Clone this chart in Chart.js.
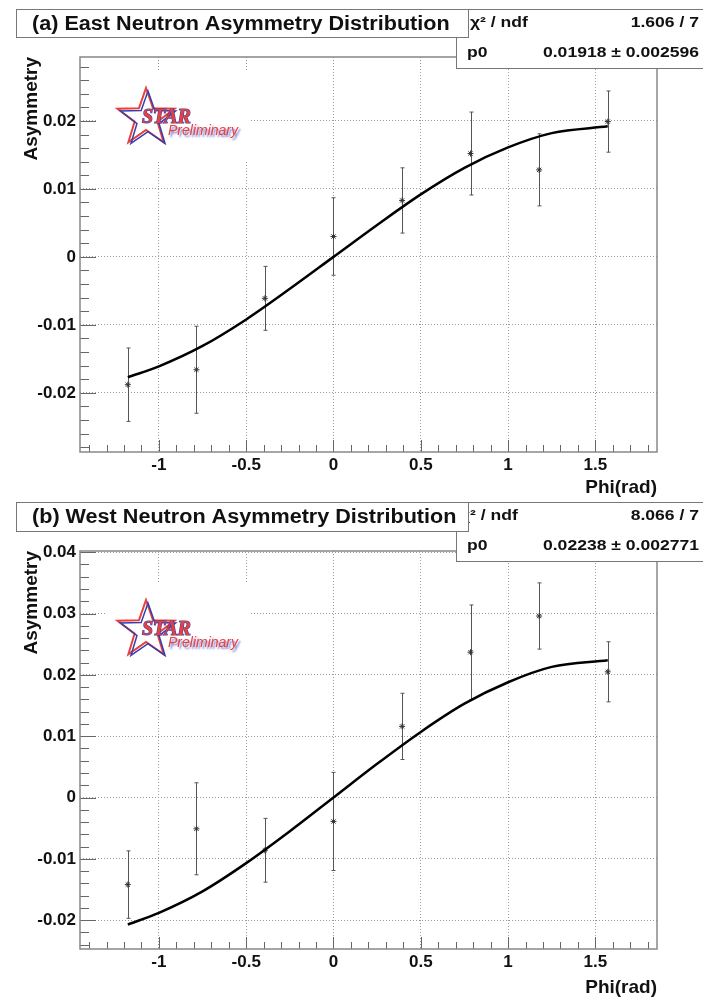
<!DOCTYPE html>
<html>
<head>
<meta charset="utf-8">
<script src="https://cdn.jsdelivr.net/npm/chart.js@4.4.1/dist/chart.umd.min.js"></script>
<style>
  html, body { margin: 0; padding: 0; background: #fff; }
  body { width: 703px; height: 997px; position: relative; overflow: hidden; }
  canvas { position: absolute; left: 0; }
  #east { top: 0; }
  #west { top: 497px; }
</style>
</head>
<body>
<canvas id="east" width="703" height="500"></canvas>
<canvas id="west" width="703" height="500"></canvas>
<script>
// phi bin centres (rad)
const phiBins = [-1.178, -0.785, -0.393, 0, 0.393, 0.785, 1.178, 1.571];

// east neutron asymmetry + errors
const eastAsym = [-0.0188, -0.0166, -0.0061, 0.0030, 0.0083, 0.0152, 0.0128, 0.0199];
const eastErr = [0.0054, 0.0064, 0.0047, 0.0057, 0.0048, 0.0061, 0.0053, 0.0045];

// west neutron asymmetry + errors
const westAsym = [-0.0142, -0.0051, -0.0086, -0.0039, 0.0116, 0.0237, 0.0296, 0.0205];
const westErr = [0.0055, 0.0075, 0.0052, 0.0080, 0.0054, 0.0077, 0.0054, 0.0049];

// fit curves
const fitPhi = [-1.178, -1.0, -0.75, -0.5, -0.25, 0, 0.25, 0.5, 0.75, 1.0, 1.25, 1.571];
const eastFit = [-0.0177, -0.0161, -0.0131, -0.0092, -0.0047, 0, 0.0047, 0.0092, 0.0131, 0.0161, 0.0182, 0.0192];
const westFit = [-0.0207, -0.0188, -0.0153, -0.0107, -0.0055, 0, 0.0055, 0.0107, 0.0153, 0.0188, 0.0213, 0.0224];

// axis ticks
const xTicks = [-1, -0.5, 0, 0.5, 1, 1.5];
const xTickLabels = ['-1', '-0.5', '0', '0.5', '1', '1.5'];
const eastYTicks = [-0.02, -0.01, 0, 0.01, 0.02];
const eastYLabels = ['-0.02', '-0.01', '0', '0.01', '0.02'];
const westYTicks = [-0.02, -0.01, 0, 0.01, 0.02, 0.03, 0.04];
const westYLabels = ['-0.02', '-0.01', '0', '0.01', '0.02', '0.03', '0.04'];

// fit stats
const eastStats = ['1.606 / 7', '0.01918 \u00b1 0.002596'];
const westStats = ['8.066 / 7', '0.02238 \u00b1 0.002771'];

const FONT = '"Liberation Sans", Arial, Helvetica, sans-serif';
Chart.defaults.font.family = FONT;
Chart.defaults.color = '#111';

function text(ctx, s, x, y, font, align, sx) {
  ctx.save();
  ctx.font = font;
  ctx.textAlign = align;
  ctx.textBaseline = 'middle';
  ctx.translate(x, y);
  ctx.scale(sx, 1);
  ctx.fillText(s, 0, 0);
  ctx.restore();
}

function starPath(ctx, cx, cy, R) {
  const r = R * 0.4;
  ctx.beginPath();
  for (let i = 0; i < 10; i++) {
    const a = -Math.PI / 2 + i * Math.PI / 5;
    const rr = i % 2 ? r : R;
    const px = cx + rr * Math.cos(a), py = cy + rr * Math.sin(a);
    i ? ctx.lineTo(px, py) : ctx.moveTo(px, py);
  }
  ctx.closePath();
}

const errorBars = {
  id: 'errorBars',
  beforeDatasetsDraw(chart, args, o) {
    const { ctx, scales: { x, y } } = chart;
    ctx.save();
    ctx.strokeStyle = '#555';
    ctx.lineWidth = 1;
    o.values.forEach((v, i) => {
      const px = Math.round(x.getPixelForValue(o.phi[i])) + 0.5;
      const top = y.getPixelForValue(v + o.errors[i]);
      const bot = y.getPixelForValue(v - o.errors[i]);
      ctx.beginPath();
      ctx.moveTo(px, top); ctx.lineTo(px, bot);
      ctx.moveTo(px - 2, top); ctx.lineTo(px + 2, top);
      ctx.moveTo(px - 2, bot); ctx.lineTo(px + 2, bot);
      ctx.stroke();
    });
    ctx.restore();
  }
};

const starLogo = {
  id: 'starLogo',
  beforeDatasetsDraw(chart, args, o) {
    const ctx = chart.ctx;
    const [x0, y0, x1, y1] = o.box;
    const [cx, cy] = o.center;
    ctx.save();
    ctx.fillStyle = '#fff';
    ctx.fillRect(x0, y0, x1 - x0, y1 - y0);
    ctx.lineJoin = 'miter';
    ctx.lineWidth = 2;
    ctx.strokeStyle = '#e8403a';
    starPath(ctx, cx - 1, cy - 1, 30);
    ctx.stroke();
    ctx.lineWidth = 1.5;
    ctx.strokeStyle = '#3a3fb0';
    starPath(ctx, cx + 1, cy + 1, 29);
    ctx.stroke();
    // STAR
    ctx.font = 'italic bold 20px "Liberation Serif", "DejaVu Serif", serif';
    ctx.textBaseline = 'alphabetic';
    ctx.textAlign = 'left';
    ctx.lineWidth = 1.2;
    ctx.strokeStyle = '#3a3fb0';
    ctx.strokeText('STAR', cx - 5, cy + 4);
    ctx.fillStyle = '#e8403a';
    ctx.fillText('STAR', cx - 5, cy + 4);
    // Preliminary
    ctx.font = 'italic 14px ' + FONT;
    ctx.shadowColor = 'rgba(70,70,200,0.75)';
    ctx.shadowOffsetX = 2;
    ctx.shadowOffsetY = 2;
    ctx.shadowBlur = 2;
    ctx.fillStyle = '#e8403a';
    ctx.fillText('Preliminary', cx + 21, cy + 16);
    ctx.restore();
  }
};

const rootFrame = {
  id: 'rootFrame',
  afterDraw(chart, args, o) {
    const { ctx, chartArea: a, scales: { x, y } } = chart;
    ctx.save();
    ctx.strokeStyle = '#666';
    ctx.lineWidth = 1;
    ctx.beginPath();
    // y ticks, inside the frame
    for (let k = Math.ceil(y.min / 0.002); k * 0.002 <= y.max; k++) {
      const py = Math.round(y.getPixelForValue(k * 0.002)) + 0.5;
      const len = k % 5 === 0 ? 16 : 9;
      ctx.moveTo(a.left, py); ctx.lineTo(a.left + len, py);
    }
    // x ticks
    for (let k = Math.ceil(x.min / 0.1); k * 0.1 <= x.max; k++) {
      const px = Math.round(x.getPixelForValue(k * 0.1)) + 0.5;
      const len = k % 5 === 0 ? 12 : 7;
      ctx.moveTo(px, a.bottom); ctx.lineTo(px, a.bottom - len);
    }
    ctx.stroke();
    ctx.strokeStyle = '#888';
    ctx.lineWidth = 1.5;
    ctx.strokeRect(a.left, a.top, a.right - a.left, a.bottom - a.top);

    // stats box
    const s = o.stats;
    ctx.fillStyle = '#fff';
    ctx.strokeStyle = '#777';
    ctx.lineWidth = 1;
    ctx.fillRect(s.box[0], s.box[1], s.box[2] - s.box[0], s.box[3] - s.box[1]);
    ctx.strokeRect(s.box[0] + 0.5, s.box[1] + 0.5, s.box[2] - s.box[0], s.box[3] - s.box[1]);
    ctx.fillStyle = '#111';
    const sf = 'bold 15px ' + FONT;
    text(ctx, '\u03c7\u00b2 / ndf', s.chiX, s.row1, sf, 'left', 1.17);
    text(ctx, s.values[0], 699, s.row1, sf, 'right', 1.17);
    text(ctx, 'p0', 467, s.row2, sf, 'left', 1.17);
    text(ctx, s.values[1], 699, s.row2, sf, 'right', 1.17);

    // title box
    const t = o.title;
    ctx.fillStyle = '#fff';
    ctx.fillRect(t.box[0], t.box[1], t.box[2] - t.box[0], t.box[3] - t.box[1]);
    ctx.strokeRect(t.box[0] + 0.5, t.box[1] + 0.5, t.box[2] - t.box[0], t.box[3] - t.box[1]);
    ctx.fillStyle = '#111';
    text(ctx, t.text, 32, (t.box[1] + t.box[3]) / 2 + 1, 'bold 20px ' + FONT, 'left', 1.08);
    ctx.restore();
  }
};

function makeChart(id, p) {
  return new Chart(document.getElementById(id), {
    type: 'scatter',
    data: {
      datasets: [
        {
          data: fitPhi.map((v, i) => ({ x: v, y: p.fit[i] })),
          showLine: true,
          borderColor: '#000',
          borderWidth: 2.5,
          pointRadius: 0,
          cubicInterpolationMode: 'monotone'
        },
        {
          data: phiBins.map((v, i) => ({ x: v, y: p.values[i] })),
          pointStyle: 'star',
          pointRadius: 3,
          borderColor: '#333',
          backgroundColor: '#333',
          borderWidth: 1
        }
      ]
    },
    options: {
      responsive: false,
      animation: false,
      layout: { padding: { top: p.padTop, right: 46, bottom: 0, left: 0 } },
      plugins: {
        legend: { display: false },
        tooltip: { enabled: false },
        errorBars: { phi: phiBins, values: p.values, errors: p.errors },
        starLogo: p.logo,
        rootFrame: { stats: p.stats, title: p.title }
      },
      scales: {
        x: {
          type: 'linear',
          min: -1.452,
          max: 1.853,
          afterBuildTicks: s => { s.ticks = xTicks.map(v => ({ value: v })); },
          afterFit: s => { s.height = 48; },
          ticks: {
            autoSkip: false,
            maxRotation: 0,
            padding: 3,
            color: '#111',
            font: { size: 17, weight: 'bold' },
            callback: (v, i) => xTickLabels[i]
          },
          grid: { color: '#9a9a9a', lineWidth: 1, drawTicks: false },
          border: { display: false, dash: [1, 2] },
          title: {
            display: true,
            text: 'Phi(rad)',
            align: 'end',
            color: '#111',
            font: { size: 19, weight: 'bold', lineHeight: 1 },
            padding: { top: 0, bottom: p.xTitlePad }
          }
        },
        y: {
          min: p.yMin,
          max: p.yMax,
          afterBuildTicks: s => { s.ticks = p.yTicks.map(v => ({ value: v })); },
          afterFit: s => { s.width = 80; },
          ticks: {
            padding: 4,
            color: '#111',
            font: { size: 17, weight: 'bold' },
            callback: (v, i) => p.yLabels[i]
          },
          grid: { color: '#9a9a9a', lineWidth: 1, drawTicks: false },
          border: { display: false, dash: [1, 2] },
          title: {
            display: true,
            text: 'Asymmetry',
            align: 'end',
            color: '#111',
            font: { size: 19, weight: 'bold', lineHeight: 1 },
            padding: { top: 22, bottom: 0 }
          }
        }
      }
    },
    plugins: [errorBars, starLogo, rootFrame]
  });
}

makeChart('east', {
  fit: eastFit, values: eastAsym, errors: eastErr,
  yMin: -0.0287, yMax: 0.0294, yTicks: eastYTicks, yLabels: eastYLabels,
  padTop: 57, xTitlePad: 2.5,
  logo: { box: [97, 70, 250, 160], center: [147, 119] },
  stats: { box: [456, 9, 712, 68], chiX: 470, row1: 23, row2: 53, values: eastStats },
  title: { box: [16, 9, 468, 37], text: '(a) East Neutron Asymmetry Distribution' }
});

makeChart('west', {
  fit: westFit, values: westAsym, errors: westErr,
  yMin: -0.0247, yMax: 0.0402, yTicks: westYTicks, yLabels: westYLabels,
  padTop: 54, xTitlePad: 0,
  logo: { box: [107, 86, 250, 176], center: [147, 134] },
  stats: { box: [456, 5, 712, 64], chiX: 460, row1: 19, row2: 49, values: westStats },
  title: { box: [16, 5, 468, 34], text: '(b) West Neutron Asymmetry Distribution' }
});
</script>
</body>
</html>
